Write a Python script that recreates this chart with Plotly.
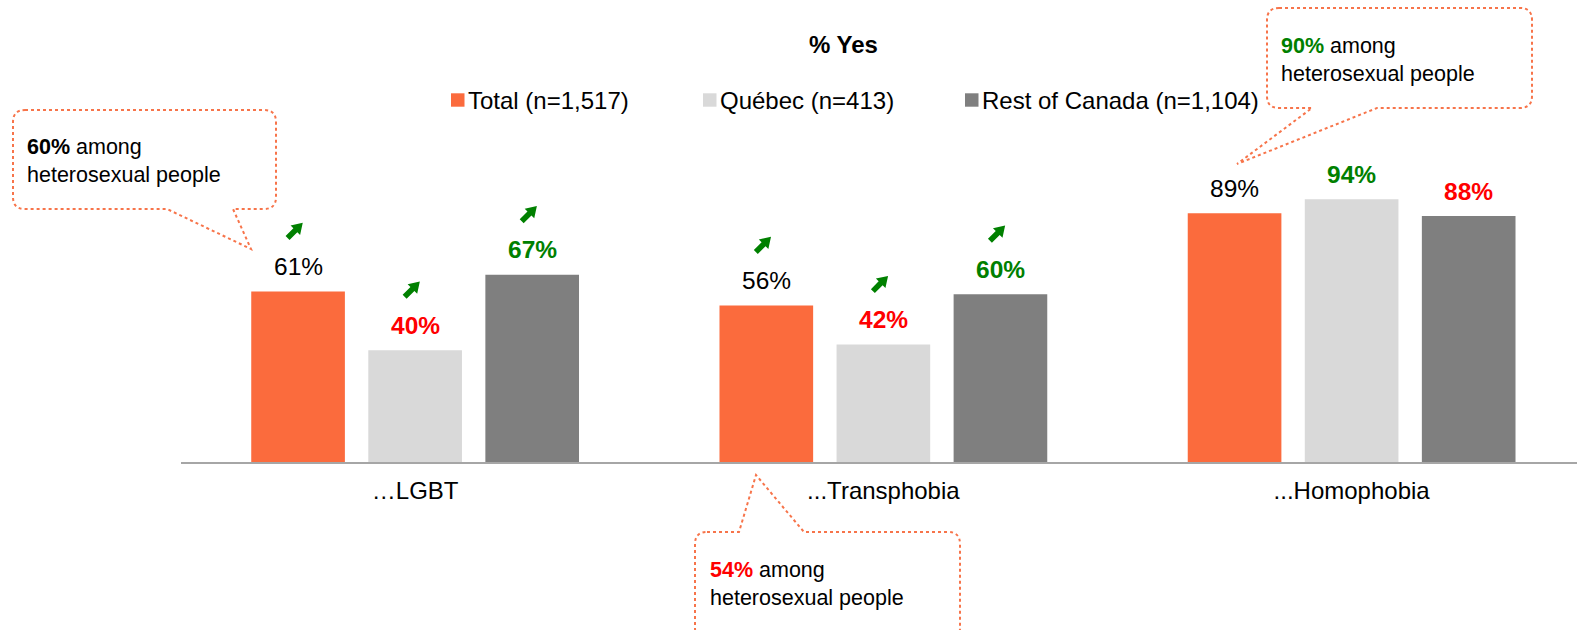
import math
import plotly.graph_objects as go

# ---------------- data ----------------
categories = ["…LGBT", "...Transphobia", "...Homophobia"]
series_names = ["Total (n=1,517)", "Québec (n=413)", "Rest of Canada (n=1,104)"]
total_values = [61, 56, 89]
quebec_values = [40, 42, 94]
roc_values = [67, 60, 88]
# significance of each label vs. the rest: "" neutral, "high" green, "low" red
total_sig = ["", "", ""]
quebec_sig = ["low", "low", "high"]
roc_sig = ["high", "high", "low"]
# upward-trend arrow above each label
total_up = [True, True, False]
quebec_up = [True, True, False]
roc_up = [True, True, False]
# callouts: value among heterosexual people and its colour key
callout_values = [60, 54, 90]
callout_sig = ["", "low", "high"]
callout_text = "among<br>heterosexual people"
title_text = "% Yes"

# ---------------- style ----------------
W, H = 1577, 630
ML, MR, MT, MB = 181, 0, 0, 168
PW, PH = W - ML - MR, H - MT - MB
FONT = "Arial, Liberation Sans, sans-serif"
bar_colors = ["#FB6B3D", "#D9D9D9", "#7F7F7F"]
sig_colors = {"": "#000000", "high": "#008000", "low": "#FF0000"}
ORANGE_LINE = "#F7744A"
ARROW_GREEN = "#008000"
BARGAP, BARGROUPGAP = 0.25, 0.2
XMAX = -0.5 + PW / 468.25
YMAX = PH / 2.795

values = [total_values, quebec_values, roc_values]
sigs = [total_sig, quebec_sig, roc_sig]
ups = [total_up, quebec_up, roc_up]

fig = go.Figure()
for name, vals, col in zip(series_names, values, bar_colors):
    fig.add_trace(go.Bar(x=categories, y=vals, name=name, marker_color=col,
                         marker_line_width=0, showlegend=False, hoverinfo="x+y"))


def arrow_path(tx, ty, length=21.5, stem=5.6, head_len=10.5, head_w=13.5, angle=45):
    """Filled block arrow in pixel offsets, tail at (tx, ty), pointing at `angle` degrees (y up)."""
    local = [(0, -stem / 2), (length - head_len, -stem / 2), (length - head_len, -head_w / 2),
             (length, 0), (length - head_len, head_w / 2), (length - head_len, stem / 2), (0, stem / 2)]
    a = math.radians(angle)
    ca, sa = math.cos(a), math.sin(a)
    pts = [(tx + u * ca - v * sa, ty + u * sa + v * ca) for u, v in local]
    return "M" + " L".join(f"{x:.2f},{y:.2f}" for x, y in pts) + " Z"


annotations = []
shapes = []
slot = (1 - BARGAP) / len(values)
for i, (vals, sg, up) in enumerate(zip(values, sigs, ups)):
    off = (i - (len(values) - 1) / 2) * slot
    for j, v in enumerate(vals):
        txt = f"{v}%"
        if sg[j]:
            txt = f"<b>{txt}</b>"
        annotations.append(dict(x=j + off, y=v, xref="x", yref="y", text=txt, showarrow=False,
                                yanchor="middle", yshift=25,
                                font=dict(family=FONT, size=24.5, color=sig_colors[sg[j]])))
        if up[j]:
            shapes.append(dict(type="path", xref="x", yref="y", xsizemode="pixel", ysizemode="pixel",
                               xanchor=j + off, yanchor=v, path=arrow_path(-10.5, 53.5),
                               fillcolor=ARROW_GREEN, line_width=0))


def px(x):
    return (x - ML) / PW


def py(y):
    return (MT + PH - y) / PH


def callout(left, right, top, bottom, tail_a, tail_b, tip, side, r=12):
    """Rounded box with a pointer; side = 'bottom' or 'top' edge holding the pointer."""
    pts = []
    pts.append(f"M{px(left + r)},{py(top)}")
    if side == "top":
        a, b = sorted([tail_a, tail_b])
        pts.append(f"L{px(a)},{py(top)}")
        pts.append(f"L{px(tip[0])},{py(tip[1])}")
        pts.append(f"L{px(b)},{py(top)}")
    pts.append(f"L{px(right - r)},{py(top)}")
    pts.append(f"Q{px(right)},{py(top)} {px(right)},{py(top + r)}")
    pts.append(f"L{px(right)},{py(bottom - r)}")
    pts.append(f"Q{px(right)},{py(bottom)} {px(right - r)},{py(bottom)}")
    if side == "bottom":
        a, b = sorted([tail_a, tail_b], reverse=True)
        pts.append(f"L{px(a)},{py(bottom)}")
        pts.append(f"L{px(tip[0])},{py(tip[1])}")
        pts.append(f"L{px(b)},{py(bottom)}")
    pts.append(f"L{px(left + r)},{py(bottom)}")
    pts.append(f"Q{px(left)},{py(bottom)} {px(left)},{py(bottom - r)}")
    pts.append(f"L{px(left)},{py(top + r)}")
    pts.append(f"Q{px(left)},{py(top)} {px(left + r)},{py(top)}Z")
    return dict(type="path", xref="paper", yref="paper", path=" ".join(pts),
                line=dict(color=ORANGE_LINE, width=2, dash="dot"), fillcolor="rgba(0,0,0,0)")


callout_geom = [
    dict(box=(13, 276, 110, 209), tail=(233, 167), tip=(251, 249), side="bottom", text_at=(25, 161)),
    dict(box=(695, 960, 532, 640), tail=(739, 804), tip=(756, 475), side="top", text_at=(708, 584)),
    dict(box=(1267, 1532, 8, 108), tail=(1377, 1312), tip=(1237, 164), side="bottom", text_at=(1279, 60)),
]
for g, val, sg in zip(callout_geom, callout_values, callout_sig):
    l, r_, t, b = g["box"]
    shapes.append(callout(l, r_, t, b, g["tail"][0], g["tail"][1], g["tip"], g["side"]))
    annotations.append(dict(x=px(g["text_at"][0]), y=py(g["text_at"][1]), xref="paper", yref="paper",
                            xanchor="left", yanchor="middle", align="left", showarrow=False,
                            text=f"<b><span style='color:{sig_colors[sg]}'>{val}%</span></b> {callout_text}",
                            font=dict(family=FONT, size=21.5, color="#000000")))

# title
annotations.append(dict(x=px(843), y=py(45), xref="paper", yref="paper", text=f"<b>{title_text}</b>",
                        showarrow=False, xanchor="center", yanchor="middle",
                        font=dict(family=FONT, size=24, color="#000000")))

# manual legend
legend_x = [451, 703, 965]
for lx, name, col in zip(legend_x, series_names, bar_colors):
    shapes.append(dict(type="rect", xref="paper", yref="paper", x0=px(lx), x1=px(lx + 13.5),
                       y0=py(93.3), y1=py(106.7), fillcolor=col, line_width=0))
    annotations.append(dict(x=px(lx + 14.5), y=py(100.5), xref="paper", yref="paper", text=name,
                            showarrow=False, xanchor="left", yanchor="middle",
                            font=dict(family=FONT, size=24, color="#000000")))

fig.update_layout(
    width=W, height=H, autosize=False,
    margin=dict(l=ML, r=MR, t=MT, b=MB, pad=0),
    paper_bgcolor="white", plot_bgcolor="white",
    barmode="group", bargap=BARGAP, bargroupgap=BARGROUPGAP,
    showlegend=False,
    annotations=annotations, shapes=shapes,
    font=dict(family=FONT, color="#000000"),
)
fig.update_xaxes(type="category", range=[-0.5, XMAX], showline=True, linecolor="#A6A6A6", linewidth=2,
                 showgrid=False, zeroline=False, ticks="", ticklabelstandoff=6,
                 tickfont=dict(family=FONT, size=24, color="#000000"), fixedrange=True)
fig.update_yaxes(range=[0, YMAX], visible=False, fixedrange=True)

fig.write_html("out.html", config={"displayModeBar": False, "staticPlot": True},
               post_script="document.body.style.margin='0';document.body.style.overflow='hidden';")
